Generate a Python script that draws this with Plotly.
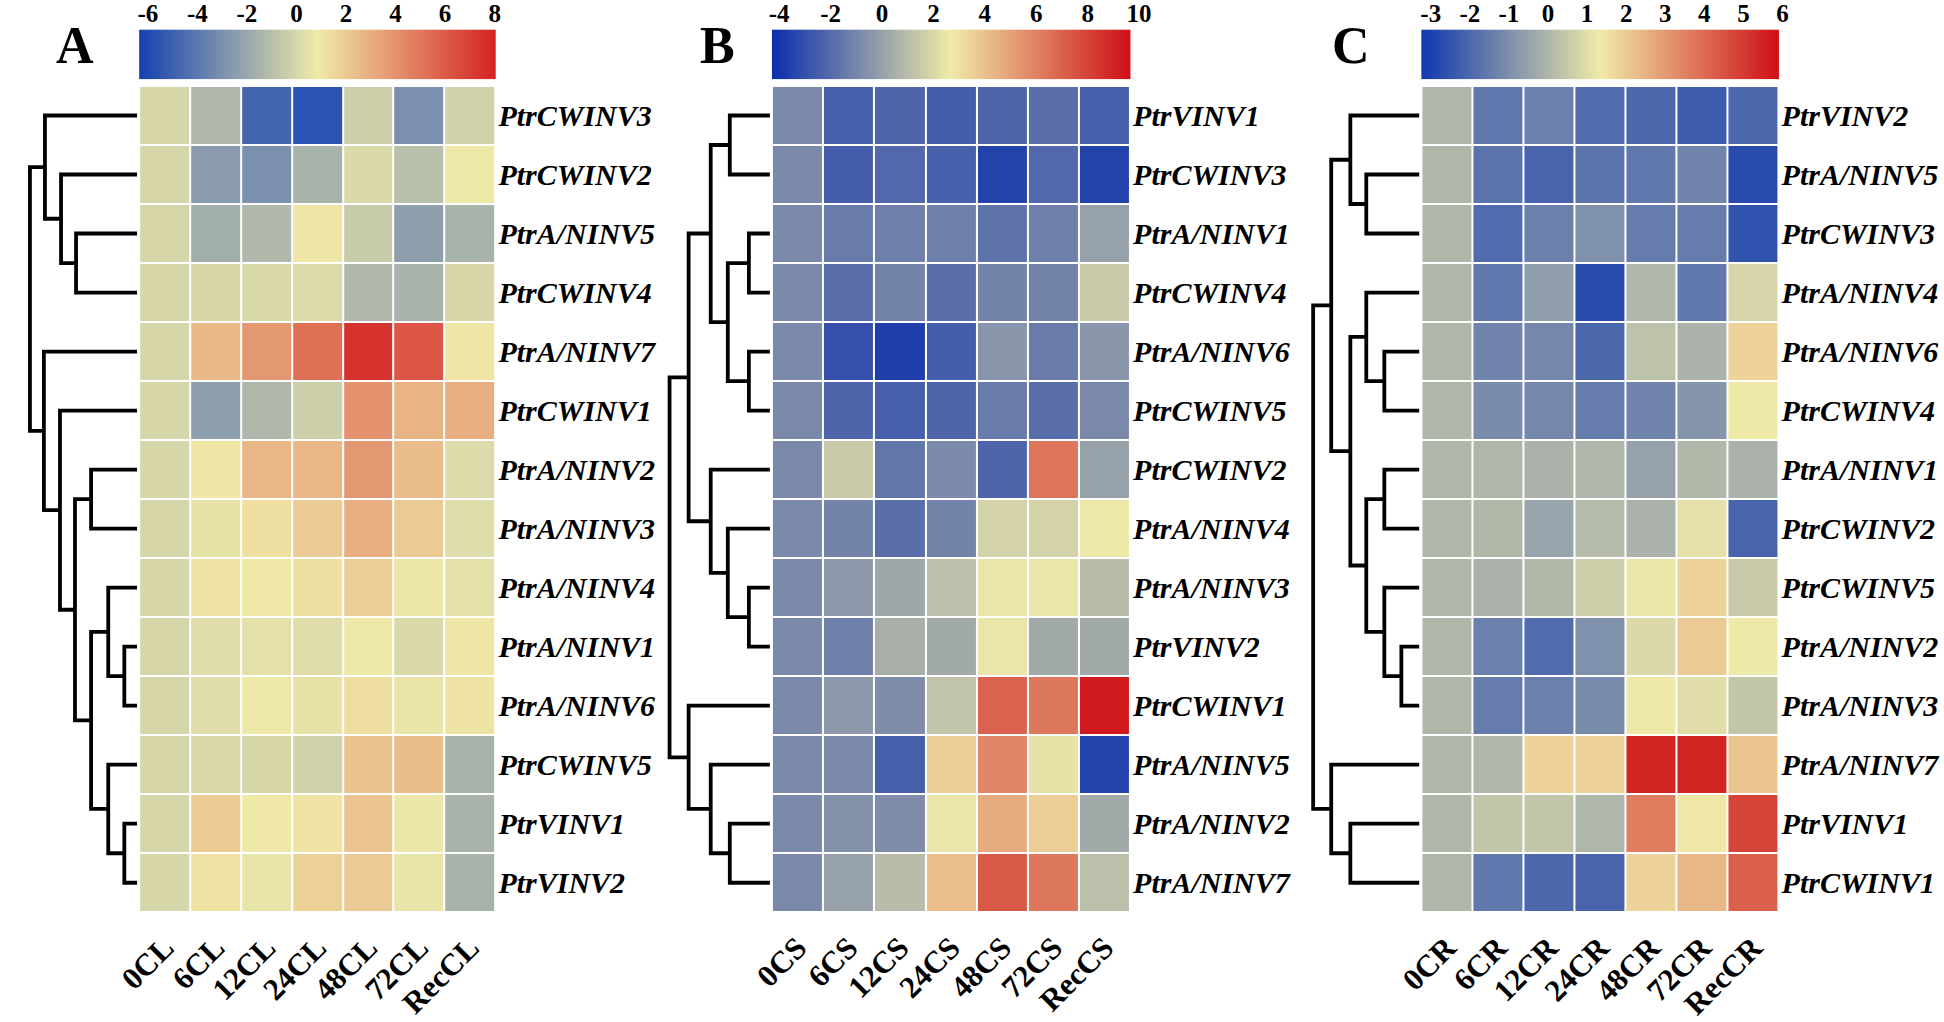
import numpy as np
import plotly.graph_objects as go

W, H = 1944, 1022

# ---------------- data ----------------
COLS_A = ["0CL", "6CL", "12CL", "24CL", "48CL", "72CL", "RecCL"]
ROWS_A = ["PtrCWINV3", "PtrCWINV2", "PtrA/NINV5", "PtrCWINV4", "PtrA/NINV7", "PtrCWINV1",
          "PtrA/NINV2", "PtrA/NINV3", "PtrA/NINV4", "PtrA/NINV1", "PtrA/NINV6", "PtrCWINV5",
          "PtrVINV1", "PtrVINV2"]
VALS_A = [
    [0, -1.3, -4.8, -5.6, -0.3, -3.0, -0.2],
    [0, -2.5, -3.0, -1.5, 0.1, -1.0, 0.8],
    [0, -1.7, -1.3, 1.0, -0.5, -2.4, -1.5],
    [0, 0.0, 0.1, 0.2, -1.3, -1.5, 0.0],
    [0, 2.6, 3.8, 5.3, 7.5, 6.2, 1.0],
    [0, -2.4, -1.3, -0.3, 4.0, 2.8, 3.0],
    [0, 1.0, 2.7, 2.7, 3.8, 2.5, 0.2],
    [0, 0.5, 1.2, 2.0, 3.0, 2.0, 0.3],
    [0, 1.1, 0.9, 1.2, 1.9, 0.7, 0.4],
    [0, 0.3, 0.4, 0.3, 0.8, 0.1, 1.0],
    [0, 0.3, 0.8, 0.5, 1.3, 0.6, 1.1],
    [0, 0.1, 0.0, -0.2, 2.3, 2.5, -1.5],
    [0, 2.0, 0.9, 1.1, 2.2, 0.7, -1.5],
    [0, 1.1, 0.6, 1.7, 2.0, 0.6, -1.5],
]
RANGE_A = [-6.35, 8.03]
TICKS_A = [-6, -4, -2, 0, 2, 4, 6, 8]
TREE_A = [1.00,
          [0.86, "PtrCWINV3", [0.71, "PtrCWINV2", [0.57, "PtrA/NINV5", "PtrCWINV4"]]],
          [0.87, "PtrA/NINV7",
           [0.72, "PtrCWINV1",
            [0.58, [0.43, "PtrA/NINV2", "PtrA/NINV3"],
             [0.43, [0.27, "PtrA/NINV4", [0.12, "PtrA/NINV1", "PtrA/NINV6"]],
              [0.27, "PtrCWINV5", [0.12, "PtrVINV1", "PtrVINV2"]]]]]]]

COLS_B = ["0CS", "6CS", "12CS", "24CS", "48CS", "72CS", "RecCS"]
ROWS_B = ["PtrVINV1", "PtrCWINV3", "PtrA/NINV1", "PtrCWINV4", "PtrA/NINV6", "PtrCWINV5",
          "PtrCWINV2", "PtrA/NINV4", "PtrA/NINV3", "PtrVINV2", "PtrCWINV1", "PtrA/NINV5",
          "PtrA/NINV2", "PtrA/NINV7"]
VALS_B = [
    [-0.9, -2.4, -2.2, -2.5, -2.2, -1.9, -2.4],
    [-0.9, -2.5, -2.1, -2.4, -3.5, -2.1, -3.5],
    [-0.9, -1.4, -1.25, -1.25, -1.7, -1.25, 0.0],
    [-0.9, -1.9, -1.1, -1.9, -1.1, -1.1, 1.5],
    [-0.9, -3.0, -3.65, -2.5, -0.45, -1.4, -0.45],
    [-0.9, -2.2, -2.4, -2.2, -1.4, -1.9, -0.9],
    [-0.9, 1.5, -1.6, -0.8, -2.2, 6.4, 0.0],
    [-0.9, -1.1, -1.9, -1.1, 1.8, 1.8, 2.6],
    [-0.9, -0.3, 0.2, 1.1, 2.5, 2.5, 1.0],
    [-0.9, -1.25, 0.5, 0.3, 2.5, 0.3, 0.3],
    [-0.9, -0.3, -0.75, 1.3, 7.0, 6.3, 9.3],
    [-0.9, -0.9, -2.4, 3.6, 5.9, 2.4, -3.5],
    [-0.9, -0.6, -0.75, 2.5, 4.7, 3.6, 0.3],
    [-0.9, 0.0, 1.0, 4.1, 7.3, 6.3, 1.1],
]
RANGE_B = [-4.28, 9.65]
TICKS_B = [-4, -2, 0, 2, 4, 6, 8, 10]
TREE_B = [1.00,
          [0.81,
           [0.59, [0.40, "PtrVINV1", "PtrCWINV3"],
            [0.42, [0.21, "PtrA/NINV1", "PtrCWINV4"], [0.21, "PtrA/NINV6", "PtrCWINV5"]]],
           [0.59, "PtrCWINV2", [0.42, "PtrA/NINV4", [0.21, "PtrA/NINV3", "PtrVINV2"]]]],
          [0.81, "PtrCWINV1", [0.59, "PtrA/NINV5", [0.40, "PtrA/NINV2", "PtrA/NINV7"]]]]

COLS_C = ["0CR", "6CR", "12CR", "24CR", "48CR", "72CR", "RecCR"]
ROWS_C = ["PtrVINV2", "PtrA/NINV5", "PtrCWINV3", "PtrA/NINV4", "PtrA/NINV6", "PtrCWINV4",
          "PtrA/NINV1", "PtrCWINV2", "PtrCWINV5", "PtrA/NINV2", "PtrA/NINV3", "PtrA/NINV7",
          "PtrVINV1", "PtrCWINV1"]
VALS_C = [
    [0, -1.6, -1.37, -1.89, -1.99, -2.3, -2.0],
    [0, -1.68, -2.1, -1.68, -1.58, -1.27, -2.72],
    [0, -1.89, -1.37, -0.95, -1.47, -1.47, -2.5],
    [0, -1.58, -0.6, -2.72, 0.0, -1.58, 0.8],
    [0, -1.27, -1.16, -2.0, 0.3, -0.1, 1.8],
    [0, -1.06, -1.16, -1.47, -1.27, -0.85, 1.3],
    [0, 0.0, -0.1, 0.0, -0.5, 0.05, -0.1],
    [0, 0.05, -0.45, 0.15, -0.1, 1.1, -2.1],
    [0, -0.1, 0.05, 0.6, 1.2, 1.8, 0.5],
    [0, -1.37, -1.89, -0.95, 0.9, 2.0, 1.3],
    [0, -1.47, -1.37, -1.06, 1.3, 1.0, 0.4],
    [0, 0.0, 1.8, 1.8, 5.45, 5.45, 2.1],
    [0, 0.4, 0.4, 0.0, 3.6, 1.4, 4.8],
    [0, -1.58, -2.0, -2.1, 1.8, 2.4, 4.2],
]
RANGE_C = [-3.24, 5.9]
TICKS_C = [-3, -2, -1, 0, 1, 2, 3, 4, 5, 6]
TREE_C = [1.00,
          [0.83,
           [0.65, "PtrVINV2", [0.50, "PtrA/NINV5", "PtrCWINV3"]],
           [0.65, [0.50, "PtrA/NINV4", [0.33, "PtrA/NINV6", "PtrCWINV4"]],
            [0.50, [0.33, "PtrA/NINV1", "PtrCWINV2"],
             [0.33, "PtrCWINV5", [0.17, "PtrA/NINV2", "PtrA/NINV3"]]]]],
          [0.83, "PtrA/NINV7", [0.65, "PtrVINV1", "PtrCWINV1"]]]

LETTERS = ["A", "B", "C"]

# ---------------- style / geometry (pixels) ----------------
FONT = "Liberation Serif"
PANELS = [
    dict(letter_x=50, hm=(115, 477), dendro=(4, 113),
         blue="rgb(20,65,178)", red="rgb(212,35,35)"),
    dict(letter_x=703, hm=(758, 1122), dendro=(654, 756),
         blue="rgb(10,45,172)", red="rgb(206,15,22)"),
    dict(letter_x=1346, hm=(1418, 1781), dendro=(1308, 1416),
         blue="rgb(15,55,175)", red="rgb(206,15,22)"),
]
YELLOW = "rgb(240,234,168)"
HM_Y = (83, 930)     # top, bottom
CB_Y = (25, 76)
LETTER_Y = 42

DATA = [
    (COLS_A, ROWS_A, VALS_A, RANGE_A, TICKS_A, TREE_A),
    (COLS_B, ROWS_B, VALS_B, RANGE_B, TICKS_B, TREE_B),
    (COLS_C, ROWS_C, VALS_C, RANGE_C, TICKS_C, TREE_C),
]


def px_x(p):
    return p / W


def px_y(p):
    return 1 - p / H


def tree_segments(node, idx):
    if isinstance(node, str):
        return 0.0, idx[node], []
    h, a, b = node
    ha, ya, sa = tree_segments(a, idx)
    hb, yb, sb = tree_segments(b, idx)
    seg = [(ha, ya), (h, ya), (h, yb), (hb, yb)]
    return h, (ya + yb) / 2, sa + sb + [seg]


fig = go.Figure()
layout = dict(width=W, height=H, margin=dict(l=0, r=0, t=0, b=0),
              paper_bgcolor="white", plot_bgcolor="white", showlegend=False)
annotations = []

for i, ((cols, rows, vals, rng, ticks, tree), st) in enumerate(zip(DATA, PANELS)):
    n = len(rows)
    k = 3 * i
    ax_h, ax_c, ax_d = k + 1, k + 2, k + 3
    cs = [[0, st["blue"]], [0.5, YELLOW], [1, st["red"]]]
    lo, hi = rng
    hm_l, hm_r = st["hm"]
    ydom = [px_y(HM_Y[1]), px_y(HM_Y[0])]

    # heatmap
    fig.add_trace(go.Heatmap(
        z=vals, x=cols, y=list(range(n)), colorscale=cs, zmin=lo, zmax=hi,
        showscale=False, xgap=2, ygap=2, hoverinfo="skip",
        xaxis=f"x{ax_h}", yaxis=f"y{ax_h}"))
    layout[f"xaxis{ax_h}"] = dict(
        domain=[px_x(hm_l), px_x(hm_r)], anchor=f"y{ax_h}", type="category",
        showgrid=False, zeroline=False, showline=False, ticks="",
        tickangle=-45, ticklabelstandoff=10,
        tickfont=dict(family=FONT, size=31, color="black", weight="bold"))
    layout[f"yaxis{ax_h}"] = dict(
        domain=ydom, anchor=f"x{ax_h}", range=[n - 0.5, -0.5], side="right",
        tickmode="array", tickvals=list(range(n)), ticktext=rows,
        showgrid=False, zeroline=False, showline=False, ticks="",
        ticklabelstandoff=2,
        tickfont=dict(family=FONT, size=30, color="black", weight="bold", style="italic"))

    # colour bar drawn as a gradient strip on its own axis
    grad = np.linspace(lo, hi, 400)
    rmax = max(hi, ticks[-1] + 0.02 * (hi - lo))
    scale = (hm_r - hm_l) / (hi - lo)
    fig.add_trace(go.Heatmap(
        z=[grad], x=grad, y=[0], colorscale=cs, zmin=lo, zmax=hi,
        showscale=False, hoverinfo="skip",
        xaxis=f"x{ax_c}", yaxis=f"y{ax_c}"))
    layout[f"xaxis{ax_c}"] = dict(
        domain=[px_x(hm_l), px_x(hm_l + (rmax - lo) * scale)], anchor=f"y{ax_c}",
        range=[lo, rmax], side="top", tickmode="array", tickvals=ticks,
        ticktext=[str(t) for t in ticks],
        showgrid=False, zeroline=False, showline=False, ticks="",
        ticklabelstandoff=1,
        tickfont=dict(family=FONT, size=25, color="black", weight="bold"))
    layout[f"yaxis{ax_c}"] = dict(
        domain=[px_y(CB_Y[1]), px_y(CB_Y[0])], anchor=f"x{ax_c}", range=[-0.5, 0.5],
        visible=False)

    # dendrogram
    idx = {r: j for j, r in enumerate(rows)}
    _, _, segs = tree_segments(tree, idx)
    xs, ys = [], []
    for s in segs:
        for (a, b) in s:
            xs.append(a)
            ys.append(b)
        xs.append(None)
        ys.append(None)
    fig.add_trace(go.Scatter(
        x=xs, y=ys, mode="lines", line=dict(color="black", width=3.8),
        hoverinfo="skip", xaxis=f"x{ax_d}", yaxis=f"y{ax_d}"))
    d_root, d_leaf = st["dendro"]
    root_h = tree[0]
    pad = 0.03
    dscale = (d_leaf - d_root) / root_h
    layout[f"xaxis{ax_d}"] = dict(
        domain=[max(0, px_x(d_root - pad * dscale)), px_x(d_leaf)], anchor=f"y{ax_d}",
        range=[root_h + pad, 0], visible=False)
    layout[f"yaxis{ax_d}"] = dict(
        domain=ydom, anchor=f"x{ax_d}", range=[n - 0.5, -0.5], visible=False)

    annotations.append(dict(
        text=LETTERS[i], x=px_x(st["letter_x"]), y=px_y(LETTER_Y), xref="paper", yref="paper",
        showarrow=False, xanchor="center", yanchor="middle",
        font=dict(family=FONT, size=52, color="black", weight="bold")))

layout["annotations"] = annotations
fig.update_layout(**layout)

fig.write_html("out.html", config={"displayModeBar": False},
               post_script="document.body.style.margin='0';document.body.style.overflow='hidden';")
